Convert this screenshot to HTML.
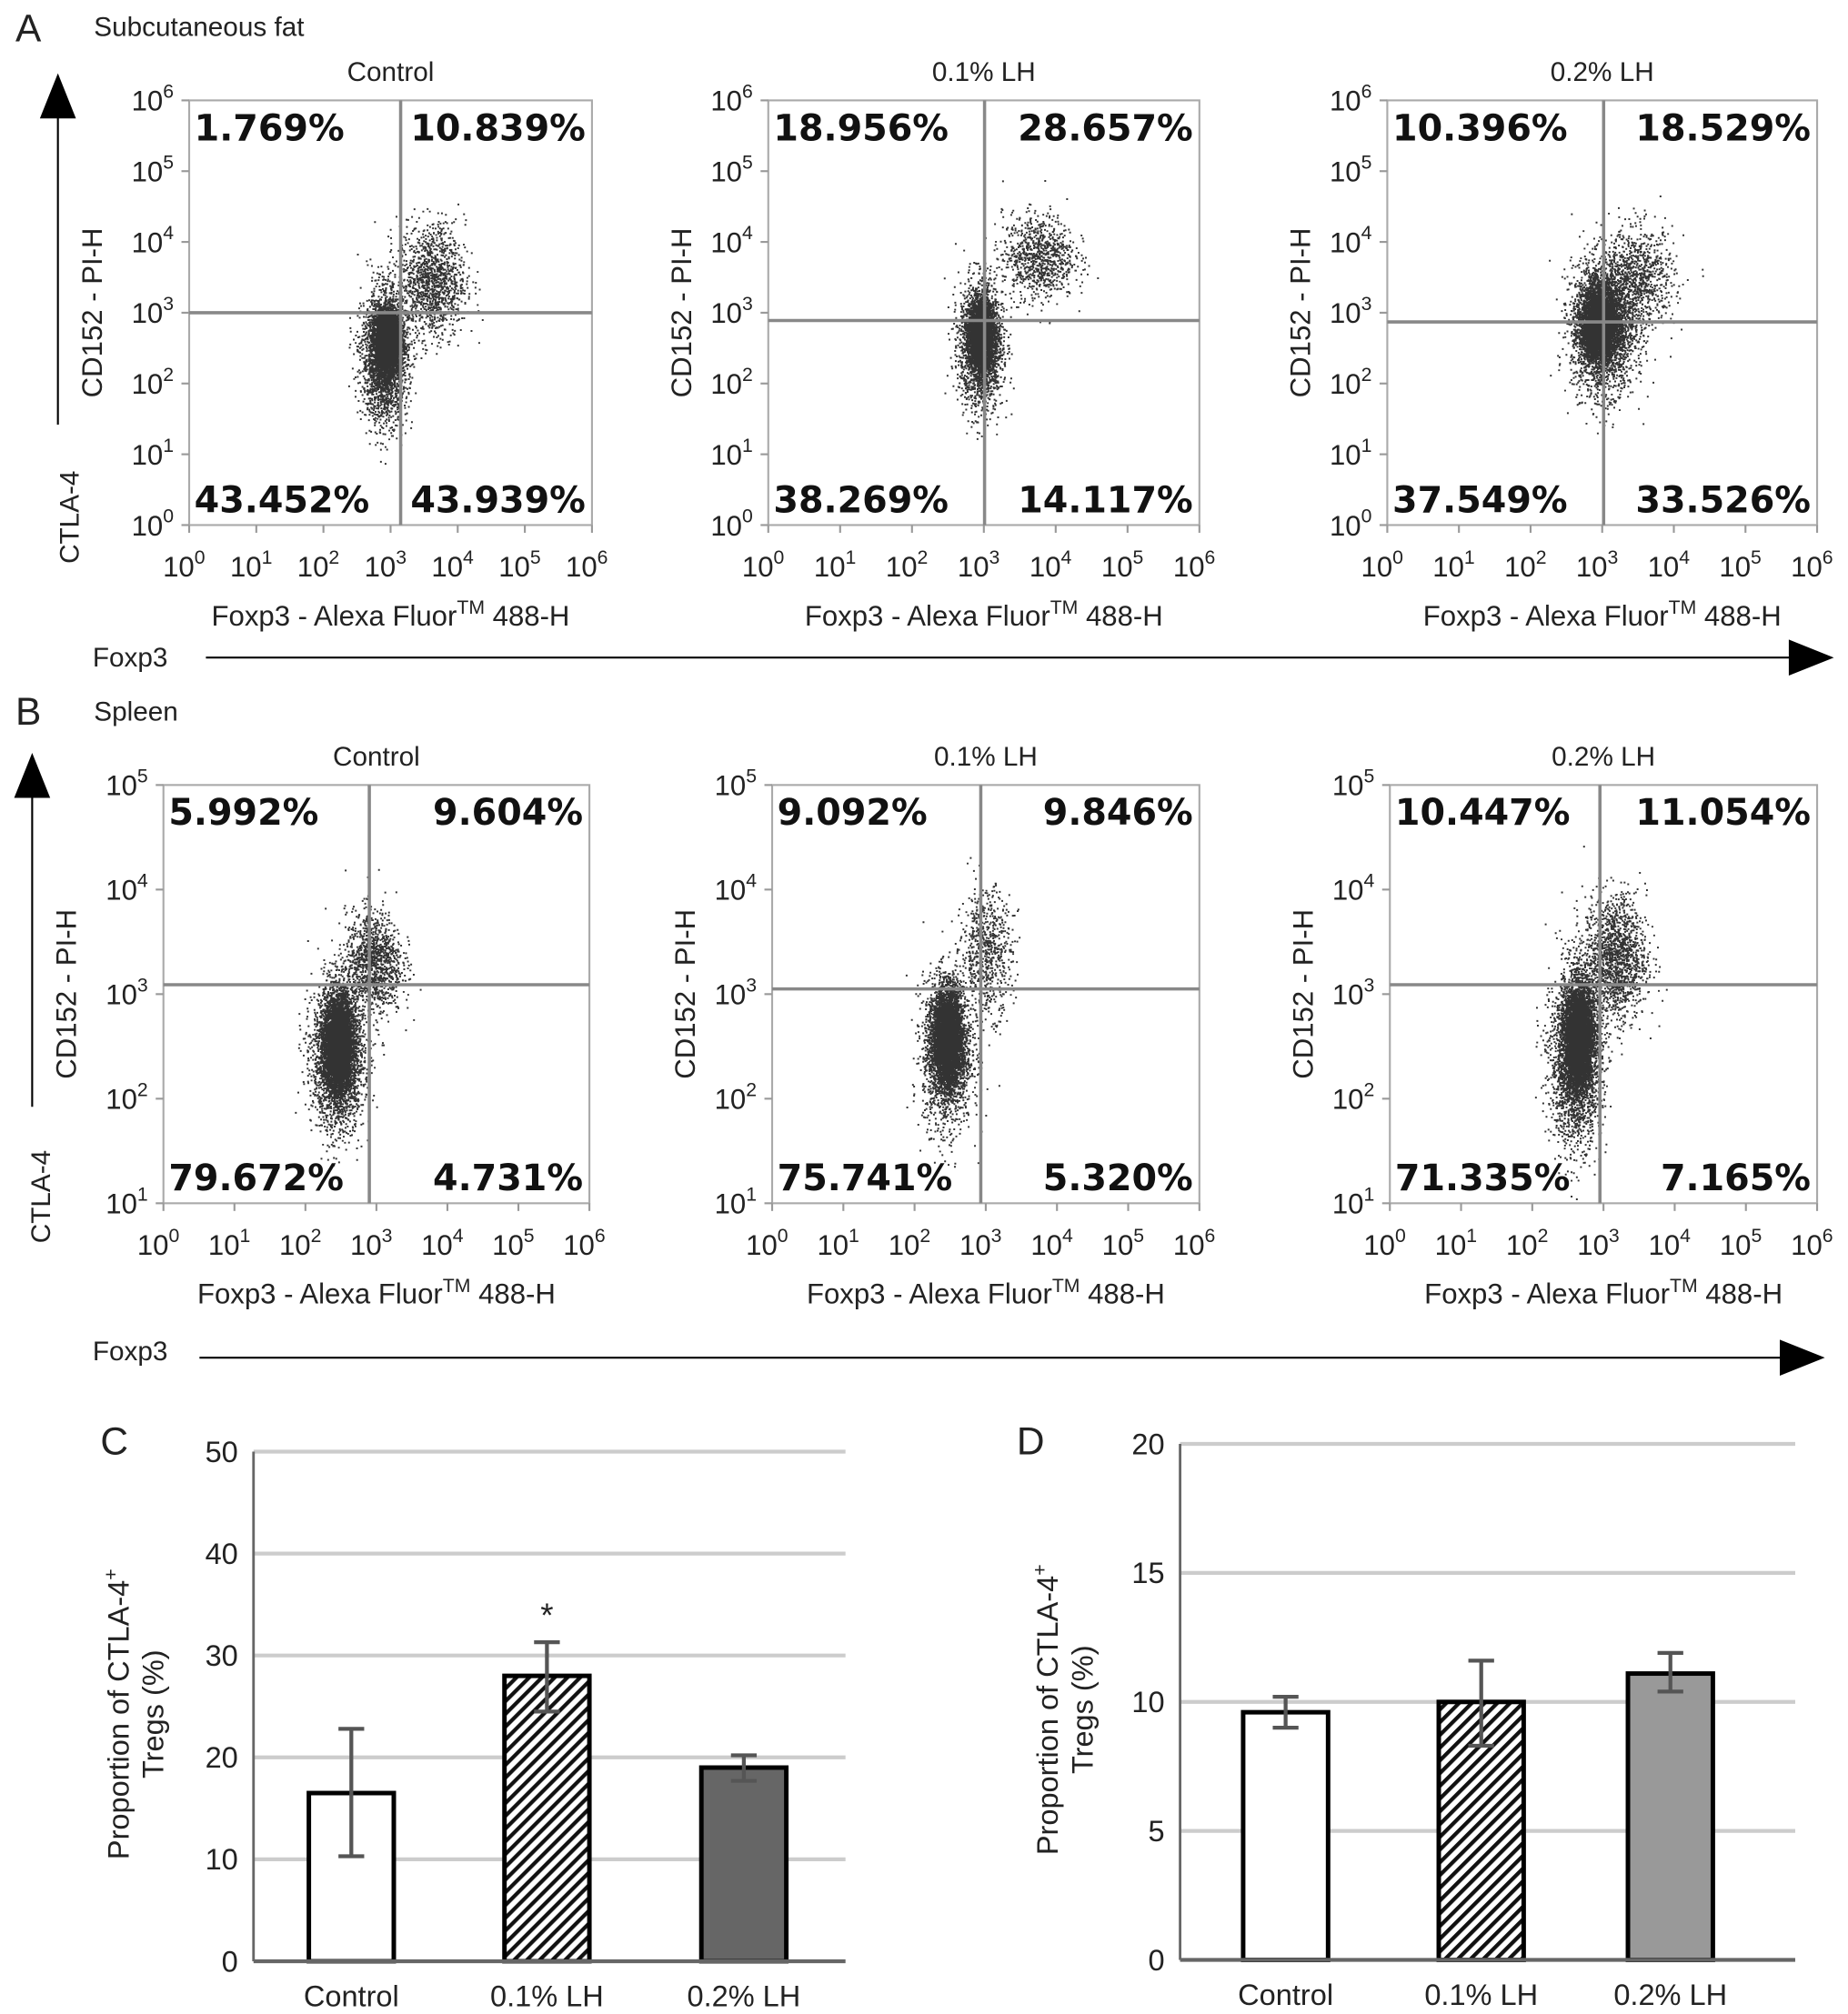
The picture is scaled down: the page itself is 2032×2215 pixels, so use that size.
<!DOCTYPE html>
<html><head><meta charset="utf-8"><style>
html,body{margin:0;padding:0;background:#fff}
svg{display:block}
text{font-family:"Liberation Sans",sans-serif;fill:#222}
.pct{font-family:"DejaVu Sans","Liberation Sans",sans-serif;font-weight:bold;font-size:28px;fill:#111}
</style></head><body>
<svg id="fig" xmlns="http://www.w3.org/2000/svg" width="2032" height="2215" viewBox="0 0 1436 1565" preserveAspectRatio="none">
<defs>
<pattern id="hatch" patternUnits="userSpaceOnUse" width="7" height="7" patternTransform="rotate(45)">
<rect width="7" height="7" fill="#fff"/><rect width="3" height="7" fill="#111"/></pattern>
</defs>
<g id="static">
<text x="12" y="32" font-size="30">A</text>
<text x="73" y="28" font-size="21">Subcutaneous fat</text>
<text x="12" y="563" font-size="30">B</text>
<text x="73" y="560" font-size="21">Spleen</text>
<text x="78" y="1130" font-size="30">C</text>
<text x="790" y="1130" font-size="30">D</text>
<line x1="45" y1="330" x2="45" y2="90" stroke="#000" stroke-width="1.5"/>
<path d="M31,92L59,92L45,57z" fill="#000"/>
<text transform="translate(61,438) rotate(-90)" font-size="21">CTLA-4</text>
<text x="72" y="518" font-size="21">Foxp3</text>
<line x1="160" y1="511" x2="1392" y2="511" stroke="#000" stroke-width="1.5"/>
<path d="M1390,497L1390,525L1425,511z" fill="#000"/>
<line x1="25" y1="860" x2="25" y2="620" stroke="#000" stroke-width="1.5"/>
<path d="M11,620L39,620L25,585z" fill="#000"/>
<text transform="translate(39,966) rotate(-90)" font-size="21">CTLA-4</text>
<text x="72" y="1057" font-size="21">Foxp3</text>
<line x1="155" y1="1055" x2="1385" y2="1055" stroke="#000" stroke-width="1.5"/>
<path d="M1383,1041L1383,1069L1418,1055z" fill="#000"/>
</g>
<g id="plots"></g>
<g id="bars"></g>
</svg>
<script>
const plotTitles = ["Control","0.1% LH","0.2% LH","Control","0.1% LH","0.2% LH"];
const quadPcts = [
 ["1.769%","10.839%","43.452%","43.939%"],
 ["18.956%","28.657%","38.269%","14.117%"],
 ["10.396%","18.529%","37.549%","33.526%"],
 ["5.992%","9.604%","79.672%","4.731%"],
 ["9.092%","9.846%","75.741%","5.320%"],
 ["10.447%","11.054%","71.335%","7.165%"]];
const gateX = [3.15,3.01,3.02,2.9,2.93,2.95];
const gateY = [3.0,2.89,2.87,3.09,3.05,3.09];
// clusters: [cx, cy, sdx, sdy, count] in log10 units
const clusters = [
 [[2.95,2.6,0.09,0.22,3500],[2.9,2.4,0.17,0.45,2500],[3.6,3.45,0.25,0.4,1300]],
 [[2.95,2.7,0.09,0.22,3000],[2.95,2.55,0.15,0.45,2000],[3.75,3.8,0.25,0.3,900]],
 [[2.95,2.85,0.12,0.25,4000],[3.0,2.8,0.22,0.45,2800],[3.5,3.5,0.25,0.35,900]],
 [[2.45,2.55,0.1,0.22,4500],[2.45,2.4,0.18,0.35,2500],[2.95,3.3,0.2,0.25,1200]],
 [[2.45,2.6,0.1,0.22,3800],[2.45,2.45,0.17,0.35,2000],[3.0,3.4,0.18,0.3,700]],
 [[2.65,2.6,0.1,0.25,4500],[2.6,2.4,0.18,0.4,2500],[3.15,3.35,0.22,0.3,1500]]];
const yDecades = [[0,6],[0,6],[0,6],[1,5],[1,5],[1,5]];
const xDecades = [0,6];

const boxes = [[147,460,78,408],[597,932,78,408],[1078,1412,78,408],
               [127,458,610,935],[600,932,610,935],[1080,1412,610,935]];
const NS="http://www.w3.org/2000/svg";
function el(tag,attrs,parent){const e=document.createElementNS(NS,tag);for(const k in attrs)e.setAttribute(k,attrs[k]);parent.appendChild(e);return e;}
let seed=12345;function rnd(){seed=(seed*1103515245+12345)%2147483648;return seed/2147483648;}
function gauss(){let u=rnd()||1e-9,v=rnd();return Math.sqrt(-2*Math.log(u))*Math.cos(2*Math.PI*v);}
function pow10(parent,x,y,exp,anchor){
  const t=el('text',{x:x,y:y,'font-size':22,'text-anchor':anchor},parent);
  t.appendChild(document.createTextNode('10'));
  const s=el('tspan',{dy:-10,'font-size':15},t);s.textContent=exp;return t;}
const plotsG=document.getElementById('plots');
for(let i=0;i<6;i++){
  const [x0,x1,y0,y1]=boxes[i];const [ymin,ymax]=yDecades[i];
  const sx=v=>x0+(v-xDecades[0])/(xDecades[1]-xDecades[0])*(x1-x0);
  const sy=v=>y1-(v-ymin)/(ymax-ymin)*(y1-y0);
  const g=el('g',{},plotsG);
  
  
  el('rect',{x:x0,y:y0,width:x1-x0,height:y1-y0,fill:'#fff',stroke:'#aaa','stroke-width':1.5},g);
  const t=el('text',{x:(x0+x1)/2,y:y0-15,'font-size':21,'text-anchor':'middle'},g);t.textContent=plotTitles[i];
  
  
  let d='';
  for(const c of clusters[i]){for(let k=0;k<c[4];k++){
    const lx=c[0]+gauss()*c[2],ly=c[1]+gauss()*c[3];
    if(lx<xDecades[0]||lx>xDecades[1]||ly<ymin||ly>ymax)continue;
    d+='M'+sx(lx).toFixed(1)+','+sy(ly).toFixed(1)+'h1.4v1.4h-1.4z';}}
  const p=el('path',{d:d,fill:'#000','fill-opacity':0.8},g);
  
  
  el('line',{x1:sx(gateX[i]),x2:sx(gateX[i]),y1:y0,y2:y1,stroke:'#888','stroke-width':2.5},g);
  el('line',{x1:x0,x2:x1,y1:sy(gateY[i]),y2:sy(gateY[i]),stroke:'#888','stroke-width':2.5},g);
  for(let e=xDecades[0];e<=xDecades[1];e++){
    el('line',{x1:sx(e),x2:sx(e),y1:y1,y2:y1+6,stroke:'#999','stroke-width':1.5},g);
    pow10(g,sx(e)-4,y1+40,e,'middle');}
  for(let e=ymin;e<=ymax;e++){
    el('line',{x1:x0-6,x2:x0,y1:sy(e),y2:sy(e),stroke:'#999','stroke-width':1.5},g);
    pow10(g,x0-12,sy(e)+8,e,'end');}
  const xl=el('text',{x:(x0+x1)/2,y:y1+78,'font-size':22,'text-anchor':'middle'},g);
  xl.appendChild(document.createTextNode('Foxp3 - Alexa Fluor'));
  const tm=el('tspan',{dy:-9,'font-size':15},xl);tm.textContent='TM';
  const rest=el('tspan',{dy:9},xl);rest.textContent=' 488-H';
  
  
  const ylx=(i%3===0)? x0-68 : x0-60;
  const yl=el('text',{transform:`translate(${ylx},${(y0+y1)/2}) rotate(-90)`,'font-size':22,'text-anchor':'middle'},g);
  yl.textContent='CD152 - PI-H';
  
  
  const q=quadPcts[i];
  const pos=[[x0+4,y0+31,'start'],[x1-5,y0+31,'end'],[x0+4,y1-10,'start'],[x1-5,y1-10,'end']];
  for(let k=0;k<4;k++){const tt=el('text',{x:pos[k][0],y:pos[k][1],'text-anchor':pos[k][2],class:'pct'},g);tt.textContent=q[k];
    
    }
}

const barCategories = ["Control","0.1% LH","0.2% LH"];
const cValues = [16.5,28.0,19.0];
const cErrLow = [10.3,24.5,17.7];
const cErrHigh = [22.8,31.3,20.2];
const cTicks = [0,10,20,30,40,50];
const dValues = [9.6,10.0,11.1];
const dErrLow = [9.0,8.3,10.4];
const dErrHigh = [10.2,11.6,11.9];
const dTicks = [0,5,10,15,20];
const fills = ['#fff','url(#hatch)'];
function barChart(cfg){
  const {ax,ay0,ay1,xEnd,max,ticks,values,lo,hi,centers,bw,fill3,name,ytx}=cfg;
  const sy=v=>ay0-v/max*(ay0-ay1);
  const g=el('g',{},document.getElementById('bars'));
  
  
  for(const t of ticks){
    if(t>0)el('line',{x1:ax,x2:xEnd,y1:sy(t),y2:sy(t),stroke:'#ccc','stroke-width':3},g);
    const tl=el('text',{x:ax-12,y:sy(t)+8,'font-size':23,'text-anchor':'end'},g);tl.textContent=t;
    
    }
  el('line',{x1:ax,x2:ax,y1:ay1,y2:ay0,stroke:'#666','stroke-width':2},g);
  for(let i=0;i<values.length;i++){
    const cx=centers[i];
    const r=el('rect',{x:cx-bw/2,y:sy(values[i]),width:bw,height:sy(0)-sy(values[i]),fill:i<2?fills[i]:fill3,stroke:'#000','stroke-width':3.5},g);
    
    
    el('line',{x1:cx,x2:cx,y1:sy(lo[i]),y2:sy(hi[i]),stroke:'#555','stroke-width':3},g);
    el('line',{x1:cx-10,x2:cx+10,y1:sy(lo[i]),y2:sy(lo[i]),stroke:'#555','stroke-width':3},g);
    el('line',{x1:cx-10,x2:cx+10,y1:sy(hi[i]),y2:sy(hi[i]),stroke:'#555','stroke-width':3},g);
    const lb=el('text',{x:cx,y:ay0+35,'font-size':23,'text-anchor':'middle'},g);lb.textContent=barCategories[i];
    
    
  }
  el('line',{x1:ax,x2:xEnd,y1:ay0,y2:ay0,stroke:'#666','stroke-width':3},g);
  const yt=el('text',{transform:`translate(${ytx},${(ay0+ay1)/2+6}) rotate(-90)`,'font-size':23,'text-anchor':'middle'},g);
  yt.appendChild(document.createTextNode('Proportion of CTLA-4'));
  const sp=el('tspan',{dy:-9,'font-size':15},yt);sp.textContent='+';
  
  
  const yt2=el('text',{transform:`translate(${ytx+27},${(ay0+ay1)/2+6}) rotate(-90)`,'font-size':23,'text-anchor':'middle'},g);
  yt2.textContent='Tregs (%)';
  return {g,sy};
}
const C=barChart({ax:197,ay0:1524,ay1:1128,xEnd:657,max:50,ticks:cTicks,values:cValues,lo:cErrLow,hi:cErrHigh,centers:[273,425,578],bw:66,fill3:'#666',name:'chart-c',ytx:100});
const star=el('text',{x:425,y:C.sy(cErrHigh[1])-12,'font-size':26,'text-anchor':'middle'},C.g);star.textContent='*';


barChart({ax:917,ay0:1523,ay1:1122,xEnd:1395,max:20,ticks:dTicks,values:dValues,lo:dErrLow,hi:dErrHigh,centers:[999,1151,1298],bw:66,fill3:'#999',name:'chart-d',ytx:822});
</script>
</body></html>
